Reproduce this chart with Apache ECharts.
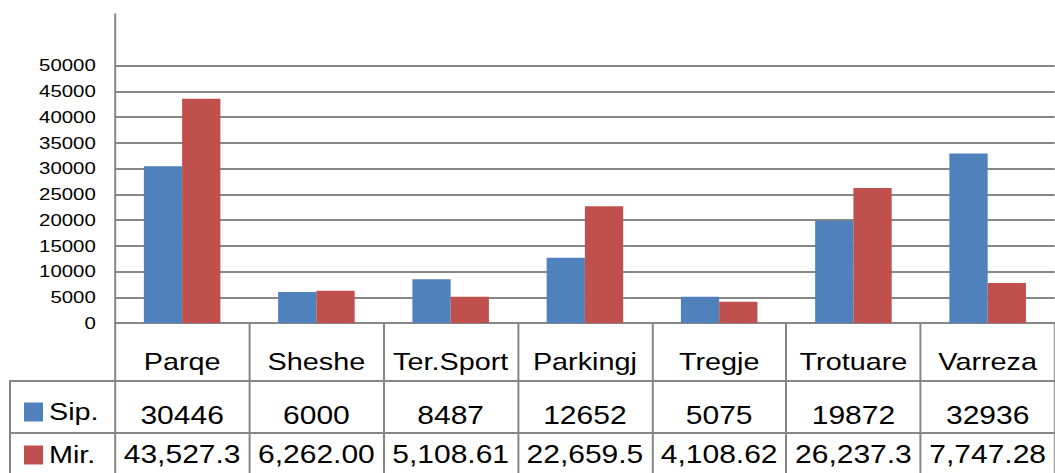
<!DOCTYPE html>
<html><head><meta charset="utf-8">
<script src="https://cdn.jsdelivr.net/npm/echarts@6/dist/echarts.min.js"></script>
<style>
html,body{margin:0;padding:0;background:#fff;overflow:hidden}
#wrap{width:1055px;height:473px;overflow:hidden}
#chart{width:879.17px;height:473px;transform:scaleX(1.2);transform-origin:0 0}
</style>
</head><body><div id="wrap"><div id="chart"></div></div>
<script>
// ---- data ----
const categories = ['Parqe', 'Sheshe', 'Ter.Sport', 'Parkingj', 'Tregje', 'Trotuare', 'Varreza'];
const seriesNames = ['Sip.', 'Mir.'];
const sipValues = [30446, 6000, 8487, 12652, 5075, 19872, 32936];
const mirValues = [43527.3, 6262.00, 5108.61, 22659.5, 4108.62, 26237.3, 7747.28];
const yAxisMax = 60000;
const yStep = 5000;
const yLabelMax = 50000;

// ---- helpers ----
function fmt6(v) {
  const s = v.toPrecision(6);
  const parts = s.split('.');
  return parts[0].replace(/\B(?=(\d{3})+(?!\d))/g, ',') + (parts[1] ? '.' + parts[1] : '');
}
const S = 1.2;               // horizontal stretch applied by CSS
const gray = '#878787';
const font = 'Liberation Sans, Arial, sans-serif';
const splitColors = [];
for (let v = 0; v <= yAxisMax; v += yStep) splitColors.push(v <= yLabelMax ? gray : 'rgba(0,0,0,0)');

const chart = echarts.init(document.getElementById('chart'), null, {renderer: 'svg'});
chart.setOption({
  animation: false,
  color: ['#4F81BD', '#C0504D'],
  textStyle: {fontFamily: font},
  grid: {left: 115 / S, width: 944 / S, top: 14, bottom: 150, containLabel: false},
  legend: {
    data: seriesNames, orient: 'vertical', left: 24 / S, top: 400, padding: 0, itemGap: 19,
    itemWidth: 19 / S, itemHeight: 19, icon: 'rect', selectedMode: false,
    textStyle: {fontSize: 24, color: '#000', fontFamily: font}
  },
  xAxis: [
    {
      type: 'category', data: categories, position: 'bottom',
      axisLine: {lineStyle: {color: gray, width: 2}},
      axisTick: {show: true, length: 150, interval: 0, lineStyle: {color: gray, width: 2 / S}},
      axisLabel: {interval: 0, margin: 27, fontSize: 24, lineHeight: 24, color: '#000', fontFamily: font},
      splitLine: {show: false}
    },
    {
      type: 'category', data: sipValues.map(String), position: 'bottom', offset: 80,
      axisLine: {show: false}, axisTick: {show: false}, splitLine: {show: false},
      axisLabel: {interval: 0, margin: 0, fontSize: 25, lineHeight: 25, color: '#000', fontFamily: font}
    },
    {
      type: 'category', data: mirValues.map(fmt6), position: 'bottom', offset: 119,
      axisLine: {show: false}, axisTick: {show: false}, splitLine: {show: false},
      axisLabel: {interval: 0, margin: 0, fontSize: 25, lineHeight: 25, color: '#000', fontFamily: font}
    }
  ],
  yAxis: {
    type: 'value', min: 0, max: yAxisMax, interval: yStep,
    axisLine: {show: true, lineStyle: {color: gray, width: 2 / S}},
    axisTick: {show: false},
    axisLabel: {margin: 16, fontSize: 17, color: '#000', fontFamily: font,
      formatter: function (v) { return v > yLabelMax ? '' : String(v); }},
    splitLine: {show: true, lineStyle: {color: splitColors, width: 2}}
  },
  series: [
    {name: seriesNames[0], type: 'bar', xAxisIndex: 0, data: sipValues, barGap: '0%', barCategoryGap: '43%'},
    {name: seriesNames[1], type: 'bar', xAxisIndex: 0, data: mirValues, barGap: '0%', barCategoryGap: '43%'}
  ],
  graphic: [
    {type: 'line', shape: {x1: 10 / S, y1: 381, x2: 1060 / S, y2: 381}, style: {stroke: gray, lineWidth: 2}},
    {type: 'line', shape: {x1: 10 / S, y1: 433, x2: 1060 / S, y2: 433}, style: {stroke: gray, lineWidth: 2}},
    {type: 'line', shape: {x1: 10 / S, y1: 380, x2: 10 / S, y2: 480}, style: {stroke: gray, lineWidth: 2 / S}}
  ]
});
</script>
</body></html>
